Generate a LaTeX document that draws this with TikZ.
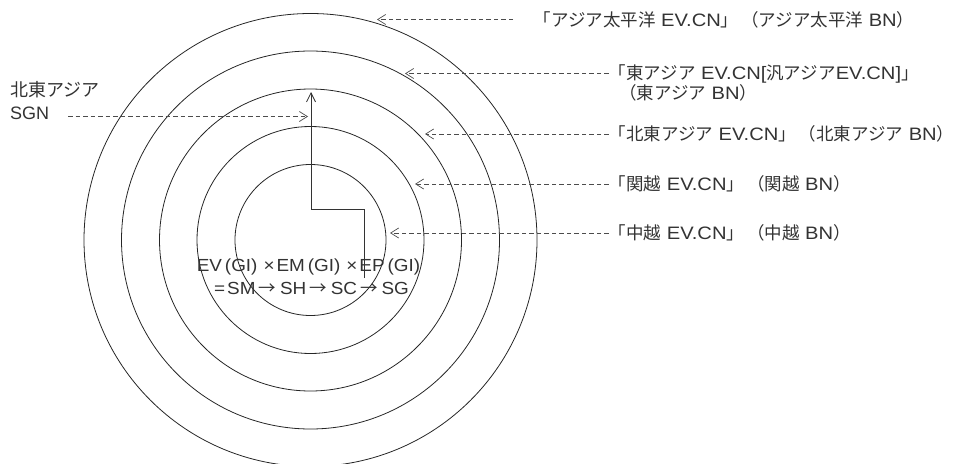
\documentclass[tikz,border=0pt]{standalone}
\usepackage{fontspec}
\setmainfont{Liberation Sans}
\newfontfamily\lblfont{Liberation Sans}[FakeStretch=1.12]
\newfontfamily\frmfont{Liberation Sans}[FakeStretch=1.08]
\newfontfamily\cjk{Noto Sans CJK JP}
\newcommand\J[1]{{\cjk\fontsize{17.5}{20}\selectfont #1}}
\newcommand\JS[1]{{\cjk #1}}
\usetikzlibrary{arrows.meta}
\begin{document}
\begin{tikzpicture}[x=1pt,y=-1pt,
  ring/.style={draw=black!85, line width=0.8pt},
  ptr/.style={draw=black!70, dash pattern=on 4.5pt off 3pt, line width=0.7pt, -{Straight Barb[length=8pt,width=10pt]}},
  mainarrow/.style={draw=black!80, line width=0.8pt, -{Straight Barb[length=9pt,width=9pt]}},
  lbl/.style={font=\lblfont\fontsize{18}{22}\selectfont, text=black!80, inner sep=0pt, anchor=west},
  sidelbl/.style={font=\fontsize{18}{22}\selectfont, text=black!80, inner sep=0pt, anchor=west},
  formula/.style={font=\frmfont\fontsize{17.5}{22}\selectfont, text=black!80, inner sep=0pt}
]
\useasboundingbox (0,0) rectangle (965,463);
\coordinate (c) at (310.5,240);
\foreach \r in {75.5,113.5,151,189,226.5}
  \draw[ring] (c) circle[radius=\r pt];

% formula
\node[formula] (f1) at (308.5,267) {EV\kern3pt(GI)\kern6pt×\kern2pt EM\kern3pt(GI)\kern6pt×\kern2pt EP\kern3pt(GI)};
\node[formula] (f2) at (311.5,288) {=\kern2pt SM\kern3pt\JS{→}\kern4pt SH\kern3pt\JS{→}\kern4pt SC\kern3pt\JS{→}\kern4pt SG};

% main stepped arrow
\coordinate (s0) at (364,278);
\coordinate (s1) at (364,209);
\coordinate (s2) at (311,209);
\coordinate (s3) at (311,92);
\draw[mainarrow] (s0) -- (s1) -- (s2) -- (s3);

% right labels
\node[lbl] (l1) at (533.5,19.5) {\J{「アジア太平洋} EV.CN\J{」}\kern3pt\J{（アジア太平洋} BN\J{）}};
\node[lbl] (l2) at (608.5,73.5) {\J{「東アジア} EV.CN[\J{汎アジア}EV.CN]\J{」}};
\node[lbl] (l2b) at (619,93) {\J{（東アジア} BN\J{）}};
\node[lbl] (l3) at (608.5,134) {\J{「北東アジア} EV.CN\J{」}\kern3pt\J{（北東アジア} BN\J{）}};
\node[lbl] (l4) at (608.5,184) {\J{「関越} EV.CN\J{」}\kern3pt\J{（関越} BN\J{）}};
\node[lbl] (l5) at (608.5,233) {\J{「中越} EV.CN\J{」}\kern3pt\J{（中越} BN\J{）}};

\coordinate (e1) at (513,19.5);
\coordinate (t1) at (377,19.5);
\coordinate (t2) at (405,73.5);
\coordinate (t3) at (425,134);
\coordinate (t4) at (415,184);
\coordinate (t5) at (390,233);
\draw[ptr] (e1) -- (t1);
\draw[ptr] (l2.west) -- (t2);
\draw[ptr] (l3.west) -- (t3);
\draw[ptr] (l4.west) -- (t4);
\draw[ptr] (l5.west) -- (t5);

% left label
\node[sidelbl] (sg1) at (10,90) {\JS{北東アジア}};
\node[sidelbl] (sg2) at (10,113) {SGN};
\coordinate (sgs) at (68,116.5);
\coordinate (sgt) at (308,116.5);
\draw[ptr] (sgs) -- (sgt);
\end{tikzpicture}
\end{document}
